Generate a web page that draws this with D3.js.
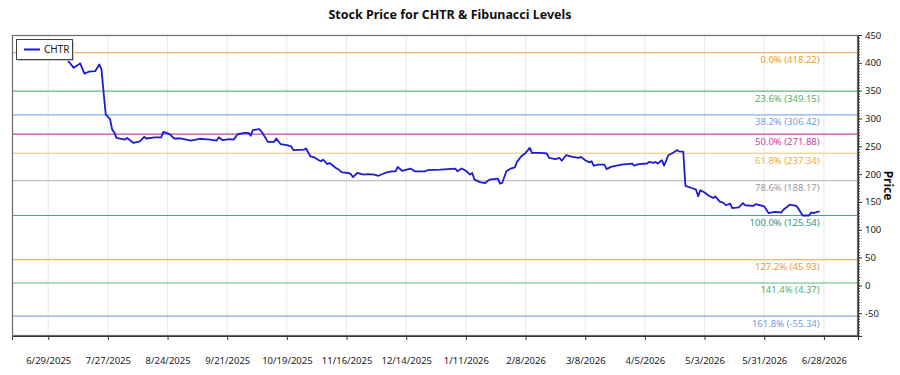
<!DOCTYPE html>
<html>
<head>
<meta charset="utf-8">
<script src="https://cdn.jsdelivr.net/npm/d3@7"></script>
<style>
  body { margin: 0; background: #fff; }
  text { font-family: "Noto Sans", "Open Sans", sans-serif; }
</style>
</head>
<body>
<div id="chart"></div>
<script>
// CHTR closing prices
var dates = [
  "2025-06-27","2025-06-30","2025-07-03","2025-07-05","2025-07-07","2025-07-08","2025-07-11","2025-07-14",
  "2025-07-16","2025-07-18","2025-07-21","2025-07-23","2025-07-24","2025-07-25","2025-07-26","2025-07-28",
  "2025-07-29","2025-07-30","2025-07-31","2025-08-04","2025-08-05","2025-08-08","2025-08-11","2025-08-13",
  "2025-08-14","2025-08-18","2025-08-21","2025-08-22","2025-08-25","2025-08-27","2025-08-30","2025-09-04",
  "2025-09-08","2025-09-13","2025-09-16","2025-09-17","2025-09-19","2025-09-22","2025-09-24","2025-09-26",
  "2025-09-29","2025-10-01","2025-10-02","2025-10-03","2025-10-06","2025-10-07","2025-10-09","2025-10-10",
  "2025-10-13","2025-10-14","2025-10-16","2025-10-19","2025-10-21","2025-10-22","2025-10-27","2025-10-28",
  "2025-10-30","2025-11-01","2025-11-03","2025-11-04","2025-11-05","2025-11-07","2025-11-08","2025-11-11",
  "2025-11-12","2025-11-14","2025-11-17","2025-11-18","2025-11-19","2025-11-21","2025-11-24","2025-11-26",
  "2025-11-29","2025-12-01","2025-12-04","2025-12-07","2025-12-09","2025-12-10","2025-12-12","2025-12-16",
  "2025-12-18","2025-12-23","2025-12-24","2025-12-30","2026-01-06","2026-01-07","2026-01-09","2026-01-11",
  "2026-01-13","2026-01-14","2026-01-15","2026-01-18","2026-01-20","2026-01-22","2026-01-26","2026-01-27",
  "2026-01-28","2026-01-30","2026-02-01","2026-02-03","2026-02-04","2026-02-06","2026-02-08","2026-02-10",
  "2026-02-11","2026-02-15","2026-02-18","2026-02-19","2026-02-22","2026-02-24","2026-02-25","2026-02-27",
  "2026-03-02","2026-03-05","2026-03-06","2026-03-08","2026-03-10","2026-03-11","2026-03-12","2026-03-14",
  "2026-03-17","2026-03-18","2026-03-20","2026-03-25","2026-03-30","2026-03-31","2026-04-02","2026-04-06",
  "2026-04-07","2026-04-09","2026-04-10","2026-04-11","2026-04-13","2026-04-14","2026-04-16","2026-04-18",
  "2026-04-20","2026-04-21","2026-04-23","2026-04-24","2026-04-27","2026-04-29","2026-04-30","2026-05-01",
  "2026-05-03","2026-05-05","2026-05-07","2026-05-08","2026-05-10","2026-05-12","2026-05-13","2026-05-15",
  "2026-05-16","2026-05-19","2026-05-21","2026-05-22","2026-05-26","2026-05-27","2026-05-31","2026-06-02",
  "2026-06-05","2026-06-08","2026-06-09","2026-06-12","2026-06-15","2026-06-16","2026-06-18","2026-06-21",
  "2026-06-22","2026-06-23","2026-06-25","2026-06-26"
];
var prices = [
  418.22,414,415,411,409,405,391,399,
  380.5,384,385,397,388,346,307,299,
  280,275,265,262,265,256,259,267,
  264,266,266,276,272,264,264,260,
  263.5,262,260,266,261,263,262,272,
  274,274,269,279,281,277,265,258,
  258,264,254,252,250,243,244,246,
  232,230,225,223,226,218,220,211,
  209,203,202,200,194.5,202,199,200,
  199,197,202,205,205,213,206,210,
  205,205,207,208,210,205,210,206,
  199,202,190,185,184,190,192,183,
  184,205,210,212,222,232,238,247,
  238,238,237,229,227,229,224,234,
  231,229,231,225,221,223,215,217,
  217,209,213,217,219,215,218,219,
  222,220,222,219,225,215,234,238,
  243,241,240.5,179,175,172,160,171,
  167,161,157,160,151,148,144,147,
  139,140,148,144,143,146,142,130,
  132,131,136,145,143,138,125.54,125.6,
  131,130,132,133
];

var fibRatios = ["0.0%","23.6%","38.2%","50.0%","61.8%","78.6%","100.0%","127.2%","141.4%","161.8%"];
var fibValues = [418.22,349.15,306.42,271.88,237.34,188.17,125.54,45.93,4.37,-55.34];
var fibLineColors = ["#f2a23c","#5cbc76","#86acee","#c444a8","#f2c474","#b0b0b0","#3ea398","#f2a23c","#5cbc76","#86acee"];
var fibTextColors = ["#eb9a30","#4fb06c","#6f9de6","#c0429f","#e9ad48","#9a9a9a","#2f968c","#eb9a30","#4fb06c","#6f9de6"];

var width = 900, height = 375;
var margin = { top: 35, right: 42, bottom: 39, left: 12 };
var parse = d3.timeParse("%Y-%m-%d");

var svg = d3.select("#chart").append("svg")
  .attr("width", width)
  .attr("height", height);

var x = d3.scaleTime()
  .domain([parse("2025-06-12"), parse("2026-07-14")])
  .range([margin.left, width - margin.right]);

var y = d3.scaleLinear()
  .domain([-91, 450])
  .range([height - margin.bottom, margin.top]);

var xTicks = d3.timeDay.every(1).range(parse("2025-06-29"), parse("2026-07-01"))
  .filter((d, i) => i % 28 === 0);

// vertical grid
svg.append("g")
  .selectAll("line")
  .data(xTicks)
  .enter().append("line")
    .attr("x1", d => x(d)).attr("x2", d => x(d))
    .attr("y1", margin.top).attr("y2", height - margin.bottom)
    .attr("stroke", "#e8e8e8")
    .attr("stroke-width", 1);

// fibonacci levels
var fib = svg.append("g");
fib.selectAll("line")
  .data(fibValues)
  .enter().append("line")
    .attr("x1", margin.left).attr("x2", width - margin.right)
    .attr("y1", d => y(d)).attr("y2", d => y(d))
    .attr("stroke", (d, i) => fibLineColors[i])
    .attr("stroke-width", 1.1);

var lastDate = parse(dates[dates.length - 1]);
fib.selectAll("text")
  .data(fibValues)
  .enter().append("text")
    .attr("x", x(lastDate))
    .attr("y", d => y(d) + 10.5)
    .attr("text-anchor", "end")
    .attr("font-size", 9.5)
    .attr("fill", (d, i) => fibTextColors[i])
    .text((d, i) => fibRatios[i] + " (" + d.toFixed(2) + ")");

// price line
var data = dates.map((d, i) => ({ date: parse(d), price: prices[i] }));
var line = d3.line()
  .x(d => x(d.date))
  .y(d => y(d.price));

svg.append("path")
  .datum(data)
  .attr("fill", "none")
  .attr("stroke", "#1c1cd4")
  .attr("stroke-width", 1.8)
  .attr("stroke-linejoin", "round")
  .attr("d", line);

// frame
svg.append("rect")
  .attr("x", margin.left + 0.5).attr("y", margin.top + 0.5)
  .attr("width", width - margin.left - margin.right - 1)
  .attr("height", height - margin.top - margin.bottom - 1)
  .attr("fill", "none")
  .attr("stroke", "#6a6a6a")
  .attr("stroke-width", 1.2);

// x axis
var xAxis = svg.append("g")
  .attr("transform", `translate(0,${height - margin.bottom})`)
  .call(d3.axisBottom(x).tickValues(xTicks).tickSize(4).tickPadding(17)
    .tickFormat(d3.timeFormat("%-m/%-d/%Y")));
xAxis.select(".domain").attr("stroke", "#333");
xAxis.selectAll(".tick line").attr("stroke", "#333");
xAxis.selectAll("text").attr("font-size", 9.5).attr("fill", "#222")
  .style("font-family", "'Noto Sans', sans-serif");

// y axis (right)
var yRight = width - margin.right;
var yMinor = svg.append("g")
  .attr("transform", `translate(${yRight},0)`)
  .call(d3.axisRight(y).tickValues(d3.range(-90, 451, 5)).tickSize(2).tickFormat(""));
yMinor.select(".domain").remove();
yMinor.selectAll(".tick line").attr("stroke", "#333");

var yAxis = svg.append("g")
  .attr("transform", `translate(${yRight},0)`)
  .call(d3.axisRight(y).tickValues(d3.range(-50, 451, 50)).tickSize(4).tickPadding(3)
    .tickFormat(d => String(d)));
yAxis.select(".domain").attr("stroke", "#333");
yAxis.selectAll(".tick line").attr("stroke", "#333");
yAxis.selectAll("text").attr("font-size", 9.5).attr("fill", "#222")
  .style("font-family", "'Noto Sans', sans-serif");

svg.append("text")
  .attr("transform", `translate(884,${(margin.top + height - margin.bottom) / 2}) rotate(90)`)
  .attr("text-anchor", "middle")
  .attr("font-size", 12)
  .attr("font-weight", "bold")
  .attr("fill", "#111")
  .text("Price");

// title
svg.append("text")
  .attr("x", 450).attr("y", 19)
  .attr("text-anchor", "middle")
  .attr("font-size", 12.5)
  .attr("font-weight", "bold")
  .attr("fill", "#111")
  .text("Stock Price for CHTR & Fibunacci Levels");

// legend
var legend = svg.append("g").attr("transform", "translate(16,39)");
legend.append("rect")
  .attr("x", 2).attr("y", 2).attr("width", 56).attr("height", 20)
  .attr("fill", "#c8c8c8");
legend.append("rect")
  .attr("x", 0.5).attr("y", 0.5).attr("width", 56).attr("height", 20)
  .attr("fill", "#fff").attr("stroke", "#444").attr("stroke-width", 1);
legend.append("line")
  .attr("x1", 8).attr("x2", 24).attr("y1", 10.5).attr("y2", 10.5)
  .attr("stroke", "#1c1cd4").attr("stroke-width", 2);
legend.append("text")
  .attr("x", 28).attr("y", 14)
  .attr("font-size", 10).attr("fill", "#222")
  .text("CHTR");
</script>
</body>
</html>
